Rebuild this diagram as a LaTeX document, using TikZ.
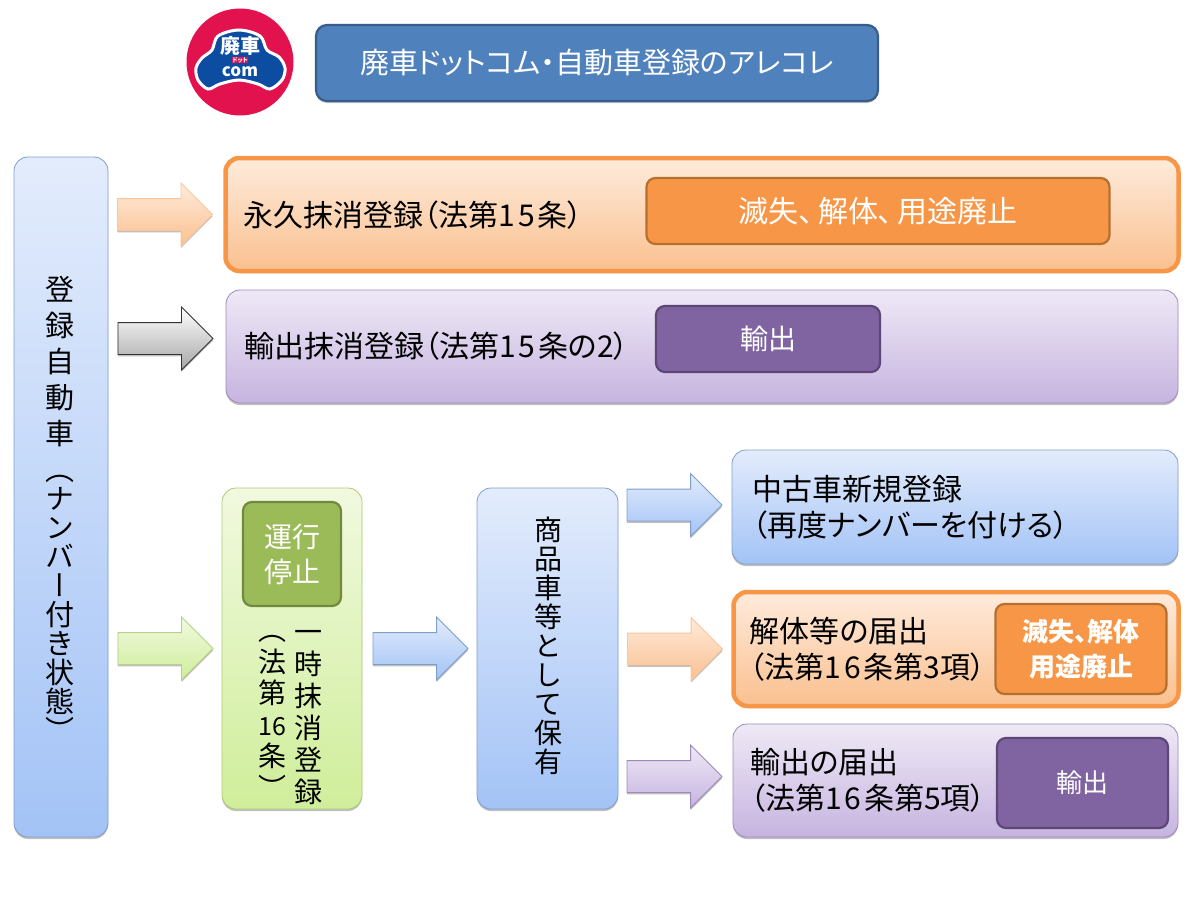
\documentclass[tikz,border=0pt]{standalone}
\usepackage{fontspec}
\setmainfont[RawFeature=+palt]{Noto Sans CJK JP}
\newfontfamily\vertfont[RawFeature=+vert]{Noto Sans CJK JP}
\usetikzlibrary{positioning}
\usetikzlibrary{shapes.arrows}
\usetikzlibrary{shadows}
\definecolor{blueline}{HTML}{7F9FCB}
\definecolor{bluetop}{HTML}{E3ECFC}
\definecolor{bluebot}{HTML}{A3C3F6}
\definecolor{orangemain}{HTML}{F79646}
\definecolor{orangedark}{HTML}{B5702F}
\definecolor{orangetop}{HTML}{FEEBDC}
\definecolor{orangebot}{HTML}{FAC08F}
\definecolor{purplemain}{HTML}{8064A2}
\definecolor{purpledark}{HTML}{5C4776}
\definecolor{purpleline}{HTML}{9E8ABA}
\definecolor{purpletop}{HTML}{EFE9F6}
\definecolor{purplebot}{HTML}{C6B4E0}
\definecolor{greenmain}{HTML}{9BBB59}
\definecolor{greendark}{HTML}{71893F}
\definecolor{greentop}{HTML}{F1F9DF}
\definecolor{greenbot}{HTML}{CFEE9A}
\definecolor{titleblue}{HTML}{4F81BD}
\definecolor{titledark}{HTML}{385D8A}
\definecolor{logored}{HTML}{E2124F}
\definecolor{logoblue}{HTML}{0C4DA2}
\newcommand{\lawnum}[2]{#1\kern3pt #2\kern3pt}
\tikzset{
  softshadow/.style={drop shadow={shadow xshift=0pt,shadow yshift=-2pt,opacity=.25,fill=black}},
  mainbox/.style={draw,rounded corners=14pt,outer sep=0pt,inner sep=0pt,softshadow},
  bluebox/.style={mainbox,draw=blueline,line width=.8pt,top color=bluetop,bottom color=bluebot},
  purplebox/.style={mainbox,draw=purpleline,line width=.8pt,top color=purpletop,bottom color=purplebot},
  orangebox/.style={mainbox,draw=orangemain,line width=4.5pt,top color=orangetop,bottom color=orangebot},
  greenbox/.style={mainbox,draw=greenmain!80,line width=.8pt,top color=greentop,bottom color=greenbot},
  innerbox/.style={draw,rounded corners=9pt,line width=2.2pt,outer sep=0pt,inner sep=0pt,text=white,align=center},
  blockarrow/.style={single arrow,draw,line width=.8pt,outer sep=0pt,inner xsep=0pt,inner ysep=15.5pt,
    minimum height=95pt,single arrow head extend=15.5pt,single arrow tip angle=90,softshadow},
  labeltext/.style={inner sep=0pt,outer sep=0pt,align=left,font=\fontsize{30}{36}\selectfont},
  verttext/.style={inner sep=0pt,outer sep=0pt,align=center},
}
\begin{document}
\begin{tikzpicture}[x=1pt,y=-1pt]
\useasboundingbox (0,0) rectangle (1200,899);
% logo
\node[circle,fill=logored,minimum size=107pt,inner sep=0pt](logo) at (240,62){};
\draw[draw=white,line width=3pt,fill=logoblue] plot[smooth cycle,tension=.55] coordinates {(196,68) (202,58) (212,50) (218,36) (239,30) (260,36) (267,50) (279,57) (285,68) (282,80) (270,89) (258,84) (239,80) (220,84) (208,89) (198,80)};
\node[inner sep=0pt,text=white,font=\bfseries\fontsize{20}{20}\selectfont](logoname) at (240,46){廃車};
\node[inner sep=0pt,text=white,font=\bfseries\fontsize{17}{17}\selectfont](logocom) at (240,72){com};
\node[fill=logored,inner sep=.5pt,text=white,font=\bfseries\fontsize{6}{6}\selectfont](logotag) at (240,60){ドット};
% title
\node[innerbox,draw=titledark,fill=titleblue,minimum width=562pt,minimum height=76pt,rounded corners=11pt,softshadow,
  font=\fontsize{29}{30}\selectfont](title) at (597,63){廃車ドットコム・自動車登録のアレコレ};
% left column
\node[bluebox,minimum width=94pt,minimum height=680pt](car) at (61,497){};
\node[verttext,font=\vertfont\fontsize{29}{36}\selectfont](cartext) at (60,362){登\\録\\自\\動\\車};
\node[verttext,font=\vertfont\fontsize{29}{29}\selectfont](cartextb) at (60,608.5){（\\ナ\\ン\\バ\\ー\\付\\き\\状\\態\\）};
% permanent
\node[orangebox,minimum width=953pt,minimum height=113pt](perm) at (702,214.5){};
\node[labeltext,right=18pt of perm.west,yshift=-1pt](permtext){永久抹消登録（法第\lawnum{1}{5}条）};
\node[innerbox,draw=orangedark,fill=orangemain,minimum width=463pt,minimum height=66pt,left=69pt of perm.east,yshift=3.5pt,
  font=\fontsize{30}{30}\selectfont](permbtn){滅失、\kern4.5pt解体、\kern4.5pt用途廃止};
\node[blockarrow,draw=orangemain!55,top color=orangetop,bottom color=orangebot,left=13pt of perm](permarrow){};
% export
\node[purplebox,minimum width=952pt,minimum height=113pt](expo) at (702,346.5){};
\node[labeltext,right=18pt of expo.west](expotext){輸出抹消登録（法第\lawnum{1}{5}条の2）};
\node[innerbox,draw=purpledark,fill=purplemain,minimum width=224pt,minimum height=66pt,left=298pt of expo.east,yshift=7.5pt,
  font=\fontsize{28}{30}\selectfont](expobtn){輸出};
\node[blockarrow,draw=black!80,top color=white,bottom color=black!35,left=13pt of expo,yshift=8pt](expoarrow){};
% temporary
\node[greenbox,minimum width=140pt,minimum height=321pt](temp) at (292,648.5){};
\node[innerbox,draw=greendark,fill=greenmain,minimum width=98pt,minimum height=104pt,below=14pt of temp.north,
  font=\fontsize{28}{35}\selectfont](stop){運行\\停止};
\node[verttext,font=\vertfont\fontsize{28}{32}\selectfont](temptext) at (308,718){一\\時\\抹\\消\\登\\録};
\node[verttext,font=\vertfont\fontsize{28}{31.5}\selectfont](lawtext) at (272,717){（\\法\\第\\{\fontsize{25}{31.5}\selectfont 16}\\条\\）};
\node[blockarrow,draw=greenmain!70,top color=greentop,bottom color=greenbot,left=9pt of temp](temparrow){};
% stock
\node[bluebox,minimum width=141pt,minimum height=321pt](stock) at (547.5,648.5){};
\node[verttext,font=\vertfont\fontsize{28}{29}\selectfont](stocktext) at (548,646){商\\品\\車\\等\\と\\し\\て\\保\\有};
\node[blockarrow,draw=blueline,top color=bluetop,bottom color=bluebot,right=11pt of temp](stockarrow){};
% reuse
\node[bluebox,minimum width=446pt,minimum height=114pt](reuse) at (955,507){};
\node[labeltext,right=20pt of reuse.west](reusetext){中古車新規登録\\（再度ナンバーを付ける）};
\node[blockarrow,draw=blueline,top color=bluetop,bottom color=bluebot,left=10pt of reuse,yshift=2pt](reusearrow){};
% dismantle
\node[orangebox,minimum width=445pt,minimum height=114pt](dism) at (956,649){};
\node[labeltext,right=16pt of dism.west](dismtext){解体等の届出\\（法第\lawnum{1}{6}条第3項）};
\node[innerbox,draw=orangedark,fill=orangemain,minimum width=171pt,minimum height=90pt,left=12pt of dism.east,
  font=\bfseries\fontsize{26}{35}\selectfont](dismbtn){滅失、解体\\用途廃止};
\node[blockarrow,draw=orangemain!55,top color=orangetop,bottom color=orangebot,left=11pt of dism](dismarrow){};
% export notice
\node[purplebox,minimum width=445pt,minimum height=113pt](note) at (955.5,780.5){};
\node[labeltext,right=17pt of note.west](notetext){輸出の届出\\（法第\lawnum{1}{6}条第5項）};
\node[innerbox,draw=purpledark,fill=purplemain,minimum width=171pt,minimum height=90pt,left=10pt of note.east,yshift=-2.5pt,
  font=\fontsize{26}{30}\selectfont](notebtn){輸出};
\node[blockarrow,draw=purpleline,top color=purpletop,bottom color=purplebot,left=11pt of note,yshift=4pt](notearrow){};
\end{tikzpicture}
\end{document}
